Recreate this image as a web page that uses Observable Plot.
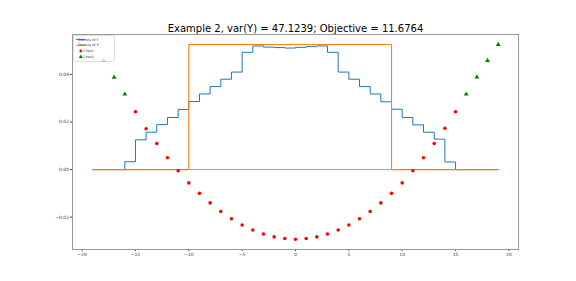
<!DOCTYPE html>
<html>
<head>
<meta charset="utf-8">
<script src="https://cdn.jsdelivr.net/npm/d3@7"></script>
<script src="https://cdn.jsdelivr.net/npm/@observablehq/plot@0.6"></script>
<style>
  html, body { margin: 0; padding: 0; background: #fff; }
  svg { font-family: "DejaVu Sans", sans-serif; }
</style>
</head>
<body>
<div id="chart"></div>
<script>
const titleText = "Example 2, var(Y) = 47.1239; Objective = 11.6764";

// Density of Y (step, value holds from x to x+1)
const yDensX = [-19,-18,-17,-16,-15,-14,-13,-12,-11,-10,-9,-8,-7,-6,-5,-4,-3,-2,-1,0,1,2,3,4,5,6,7,8,9,10,11,12,13,14,15,16,17,18,19];
const yDensV = [0,0,0,0.0033,0.0125,0.0157,0.0189,0.0219,0.0253,0.0286,0.0318,0.0349,0.0380,0.0410,0.0493,0.0520,0.0515,0.0513,0.0511,0.0514,0.0517,0.0520,0.0493,0.0410,0.0380,0.0349,0.0318,0.0285,0.0254,0.0219,0.0188,0.0157,0.0128,0.0032,0,0,0,0,0];

// Density of X (step)
const xDensX = [-19,-10,9,19];
const xDensV = [0,0.0526,0,0];

// Check points (red circles)
const redX = [-15,-14,-13,-12,-11,-10,-9,-8,-7,-6,-5,-4,-3,-2,-1,0,1,2,3,4,5,6,7,8,9,10,11,12,13,14,15];
const redV = [0.0243,0.0172,0.0110,0.0050,-0.0005,-0.0056,-0.0100,-0.0140,-0.0176,-0.0207,-0.0233,-0.0254,-0.0271,-0.0283,-0.0290,-0.0293,-0.0290,-0.0283,-0.0271,-0.0254,-0.0233,-0.0207,-0.0176,-0.0140,-0.0100,-0.0056,-0.0005,0.0050,0.0110,0.0174,0.0243];

// Check points (green triangles)
const greenX = [-18,-17,-16,16,17,18,19];
const greenV = [0.0458,0.0388,0.0317,0.0317,0.0389,0.0458,0.0526];

// Zero reference line extent
const zeroX = [-19,19];

const xTicks = [-20,-15,-10,-5,0,5,10,15,20];
const yTicks = [-0.02,0.00,0.02,0.04];

const legendLabels = ["Density of Y","Density of X","Check","Check"];

const blue = "#1f77b4", orange = "#ff7f0e";

const yData = yDensX.map((x,i)=>({x, y: yDensV[i]}));
const xData = xDensX.map((x,i)=>({x, y: xDensV[i]}));
const redData = redX.map((x,i)=>({x, y: redV[i]}));
const greenData = greenX.map((x,i)=>({x, y: greenV[i]}));
const zeroData = zeroX.map(x=>({x, y: 0}));

const ml = 72, mt = 34, mr = 58, mb = 32;

const plot = Plot.plot({
  width: 576,
  height: 281,
  marginLeft: ml,
  marginRight: mr,
  marginTop: mt,
  marginBottom: mb,
  style: {fontFamily: "DejaVu Sans, sans-serif", background: "#fff", color: "#333"},
  x: {domain: [-20.9, 20.9], ticks: xTicks, label: null},
  y: {domain: [-0.0336, 0.0568], ticks: yTicks, label: null},
  marks: [
    Plot.line(zeroData, {x: "x", y: "y", stroke: "#333", strokeWidth: 0.6, strokeDasharray: "0.8,1.2"}),
    Plot.line(yData, {x: "x", y: "y", curve: "step-after", stroke: blue, strokeWidth: 1}),
    Plot.line(xData, {x: "x", y: "y", curve: "step-after", stroke: orange, strokeWidth: 1.1}),
    Plot.dot(redData, {x: "x", y: "y", r: 1.8, fill: "red", stroke: "none"}),
    Plot.dot(greenData, {x: "x", y: "y", r: 1.8, symbol: "triangle", fill: "green", stroke: "none"}),
    Plot.axisX({ticks: xTicks, label: null, tickSize: 2, tickPadding: 1.5, fontSize: 4.5, tickFormat: d3.format("d"), stroke: "#444"}),
    Plot.axisY({ticks: yTicks, label: null, tickSize: 2, tickPadding: 1.5, fontSize: 4.5, tickFormat: d3.format(".2f"), stroke: "#444"}),
    Plot.frame({stroke: "#999", strokeWidth: 1}),
    Plot.text([titleText], {frameAnchor: "top", lineAnchor: "bottom", dy: -3, fontSize: 10, fill: "#000"})
  ]
});

// Legend (top-left inside the axes)
const svg = d3.select(plot);
const lg = svg.append("g").attr("transform", `translate(${ml + 1.5},${mt + 1.5})`);
lg.append("rect").attr("width", 41).attr("height", 26).attr("rx", 1)
  .attr("fill", "#fff").attr("fill-opacity", 0.8).attr("stroke", "#ccc").attr("stroke-width", 0.6);
const rowY = [4, 9.7, 15.5, 21.3];
legendLabels.forEach((lab, i) => {
  const cy = rowY[i];
  if (i === 0 || i === 1) {
    lg.append("line").attr("x1", 2.5).attr("x2", 12).attr("y1", cy).attr("y2", cy)
      .attr("stroke", i === 0 ? blue : orange).attr("stroke-width", 0.9);
  } else if (i === 2) {
    lg.append("circle").attr("cx", 7.3).attr("cy", cy).attr("r", 1.4).attr("fill", "red");
  } else {
    lg.append("path").attr("d", d3.symbol(d3.symbolTriangle, 7)()).attr("transform", `translate(7.3,${cy})`).attr("fill", "green");
  }
  lg.append("text").attr("x", 15).attr("y", cy).attr("dy", "0.35em")
    .attr("font-size", 3.4).attr("fill", "#333").text(lab);
});

document.getElementById("chart").appendChild(plot);
</script>
</body>
</html>
